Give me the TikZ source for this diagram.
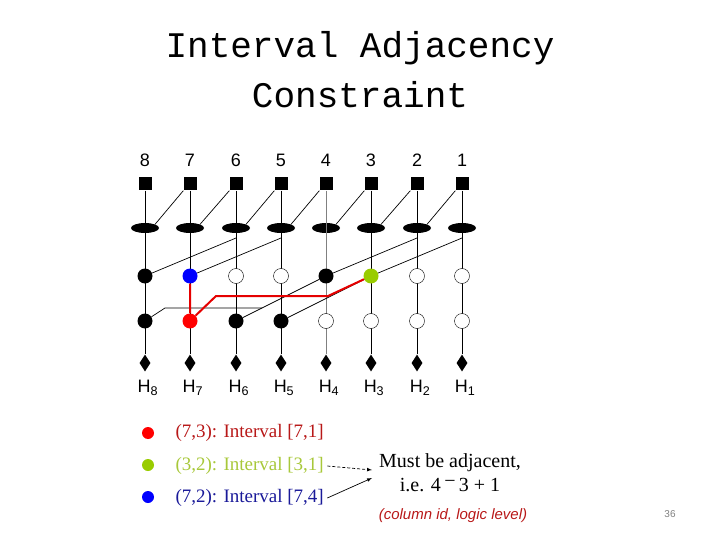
\documentclass[tikz,border=0pt]{standalone}
\usepackage{fontspec}
\setmainfont{Liberation Serif}
\setsansfont{Liberation Sans}
\setmonofont{Liberation Mono}
\usetikzlibrary{shapes.geometric}
\definecolor{dred}{HTML}{B81818}
\definecolor{lgreen}{HTML}{99CC00}
\definecolor{tgreen}{HTML}{A8C83A}
\definecolor{dblue}{HTML}{1A1A99}
\begin{document}
\begin{tikzpicture}[x=1pt,y=-1pt,
 sq/.style={fill=black,minimum size=13pt,inner sep=0pt,rectangle},
 ell/.style={ellipse,fill=black,minimum width=28pt,minimum height=10pt,inner sep=0pt},
 dot/.style={circle,fill=black,minimum size=15pt,inner sep=0pt},
 hol/.style={circle,draw=black,fill=white,minimum size=15pt,inner sep=0pt},
 dia/.style={diamond,fill=black,minimum width=11pt,minimum height=17pt,inner sep=0pt},
 lab/.style={font=\sffamily\fontsize{18}{18}\selectfont},
 thin/.style={line width=0.7pt}]
\useasboundingbox (0,0) rectangle (720,540);
\node[font=\ttfamily\fontsize{36}{50}\selectfont,align=center] (title) at (360,70) {Interval Adjacency\\Constraint};
\foreach \i/\x in {8/145,7/190,6/236,5/281,4/326,3/371,2/417,1/462}{
  \node[lab] (n\i) at (\x,160) {\i};
  \node[lab] (h\i) at (\x+3,388) {H\textsubscript{\i}};
  \node[sq] (s\i) at (\x,184) {};
  \node[ell] (e\i) at (\x,228) {};
  \node[dia] (d\i) at (\x,363) {};
  \coordinate (t\i) at (\x,238);
}
\foreach \i/\x in {8/145,7/190,6/236,5/281,3/371,2/417,1/462}{
  \draw[thin] (s\i) -- (d\i);}
\draw[thin,gray] (s4) -- (d4);
\node[dot] (a8) at (145,276) {};
\node[dot,fill=blue] (a7) at (190,276) {};
\node[hol] (a6) at (236,276) {};
\node[hol] (a5) at (281,276) {};
\node[dot] (a4) at (326,276) {};
\node[dot,fill=lgreen] (a3) at (371,276) {};
\node[hol] (a2) at (417,276) {};
\node[hol] (a1) at (462,276) {};
\node[dot] (b8) at (145,321) {};
\node[dot,fill=red] (b7) at (190,321) {};
\node[dot] (b6) at (236,321) {};
\node[dot] (b5) at (281,321) {};
\node[hol] (b4) at (326,321) {};
\node[hol] (b3) at (371,321) {};
\node[hol] (b2) at (417,321) {};
\node[hol] (b1) at (462,321) {};
\foreach \a/\b in {7/8,6/7,5/6,4/5,3/4,2/3,1/2}{
  \draw[thin] (s\a.south west) -- (e\b.north east);}
\draw[thin] (t6) -- (a8);
\draw[thin] (t5) -- (a7);
\draw[thin] (t2) -- (a4);
\draw[thin] (t1) -- (a3);
\draw[thin] (a4) -- (b6);
\draw[thin] (a3) -- (b5);
\coordinate (c1) at (165,308);
\coordinate (c2) at (262,308);
\draw[thin] (b8) -- (c1) -- (c2);
\coordinate (r1) at (216,296);
\coordinate (r2) at (328,296);
\draw[red!90!black,line width=2pt] (a7) -- (b7) -- (r1) -- (r2) -- (a3);
\node[circle,fill=red,minimum size=12pt,inner sep=0pt] (l1) at (148,433) {};
\node[circle,fill=lgreen,minimum size=12pt,inner sep=0pt] (l2) at (148,465) {};
\node[circle,fill=blue,minimum size=12pt,inner sep=0pt] (l3) at (148,497) {};
\node[anchor=west,text=dred,font=\fontsize{19}{19}\selectfont] (m1) at (172,433) {(7,3): Interval [7,1]};
\node[anchor=west,text=tgreen,font=\fontsize{19}{19}\selectfont] (m2) at (172,466) {(3,2): Interval [3,1]};
\node[anchor=west,text=dblue,font=\fontsize{19}{19}\selectfont] (m3) at (172,498) {(7,2): Interval [7,4]};
\node[align=center,font=\fontsize{20}{24}\selectfont] (must) at (450,473) {Must be adjacent,\\i.e. 4\,\raisebox{0.45ex}{\textminus}\,3 + 1};
\node[text=dred,font=\sffamily\itshape\fontsize{15}{15}\selectfont] (cl) at (453,516) {(column id, logic level)};
\draw[-latex,densely dashed,thin] (m2.east) -- (372,470);
\draw[-latex,thin] (m3.east) -- (372,478);
\node[text=gray,font=\sffamily\fontsize{10}{10}\selectfont] (pg) at (670,514) {36};
\end{tikzpicture}
\end{document}
